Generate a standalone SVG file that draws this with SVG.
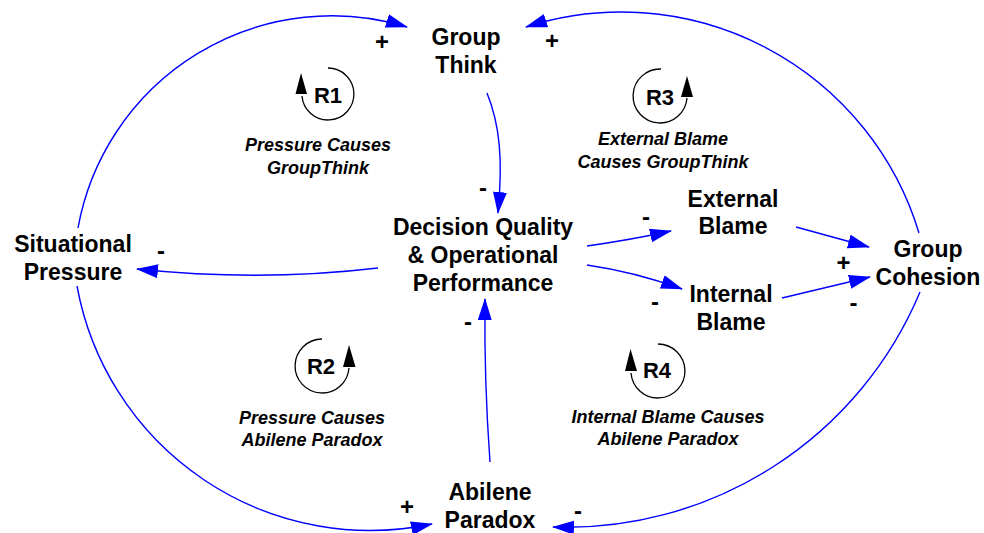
<svg xmlns="http://www.w3.org/2000/svg" width="984" height="533" viewBox="0 0 984 533">
<style>
.node{font-family:"Liberation Sans",Arial,sans-serif;font-weight:bold;font-size:23px;fill:#000;text-anchor:middle}
.sign{font-family:"Liberation Sans",Arial,sans-serif;font-weight:bold;font-size:24px;fill:#000;text-anchor:middle}
.loopname{font-family:"Liberation Sans",Arial,sans-serif;font-weight:bold;font-size:22px;fill:#000;text-anchor:middle}
.looplabel{font-family:"Liberation Sans",Arial,sans-serif;font-weight:bold;font-style:italic;font-size:18px;fill:#000;text-anchor:middle}
.link{fill:none;stroke:#0000FF;stroke-width:1.4;marker-end:url(#arrow)}
.loop{fill:none;stroke:#000;stroke-width:1.3}
.loophead{fill:#000}
</style>
<defs>
<marker id="arrow" markerUnits="userSpaceOnUse" markerWidth="24" markerHeight="16" refX="21" refY="7" orient="auto">
<path d="M0,0 L22,7 L0,14 z" fill="#0000FF"/>
</marker>
</defs>
<rect width="984" height="533" fill="#fff"/>
<g id="connectors">
<path class="link" d="M78,228 A258,258 0 0 1 407,27"/>
<path class="link" d="M919,233 A311,311 0 0 0 526,27"/>
<path class="link" d="M77,286 A298,298 0 0 0 432,524"/>
<path class="link" d="M920,292 A383,383 0 0 1 553,527"/>
<path class="link" d="M487,93 C500,125 503,160 498,213"/>
<path class="link" d="M490,462 Q484,380 485,299"/>
<path class="link" d="M378,268 Q260,282 137,269"/>
<path class="link" d="M587,246 Q630,240 671,231"/>
<path class="link" d="M587,265 Q635,272 682,289"/>
<path class="link" d="M796,227 L869,247"/>
<path class="link" d="M782,298 L870,277"/>
</g>
<g id="signs">
<text class="sign" x="382" y="49.5">+</text>
<text class="sign" x="552" y="48.5">+</text>
<text class="sign" x="483" y="196">-</text>
<text class="sign" x="468" y="330">-</text>
<text class="sign" x="161" y="259">-</text>
<text class="sign" x="646" y="225">-</text>
<text class="sign" x="655" y="310">-</text>
<text class="sign" x="843.5" y="270.5">+</text>
<text class="sign" x="853.5" y="310.5">-</text>
<text class="sign" x="407" y="514.5">+</text>
<text class="sign" x="578" y="519">-</text>
</g>
<g id="group-think"><text class="node" x="466" y="45">Group</text><text class="node" x="466" y="73">Think</text></g>
<g id="decision-quality"><text class="node" x="483" y="235">Decision Quality</text><text class="node" x="483" y="263">&amp; Operational</text><text class="node" x="483" y="291">Performance</text></g>
<g id="situational-pressure"><text class="node" x="73" y="252">Situational</text><text class="node" x="73" y="280">Pressure</text></g>
<g id="external-blame"><text class="node" x="733" y="207">External</text><text class="node" x="733" y="234">Blame</text></g>
<g id="internal-blame"><text class="node" x="731" y="302">Internal</text><text class="node" x="731" y="330">Blame</text></g>
<g id="group-cohesion"><text class="node" x="928" y="257">Group</text><text class="node" x="928" y="285">Cohesion</text></g>
<g id="abilene-paradox"><text class="node" x="490" y="500">Abilene</text><text class="node" x="490" y="528">Paradox</text></g>
<g id="loop-r1">
<path class="loop" d="M328,68 A26,26 0 1 1 302,96"/>
<polygon class="loophead" points="301,73 295.5,94 307,94"/>
<text class="loopname" x="328" y="103">R1</text>
<text class="looplabel" x="318" y="151">Pressure Causes</text>
<text class="looplabel" x="318" y="174">GroupThink</text>
</g>
<g id="loop-r2">
<path class="loop" d="M322,339 A27,27 0 1 0 349,368"/>
<polygon class="loophead" points="349,345 343,367 355.5,367"/>
<text class="loopname" x="321" y="374">R2</text>
<text class="looplabel" x="312" y="424">Pressure Causes</text>
<text class="looplabel" x="312" y="446">Abilene Paradox</text>
</g>
<g id="loop-r3">
<path class="loop" d="M661,69 A27,27 0 1 0 687,98"/>
<polygon class="loophead" points="687,76 681,97 693,97"/>
<text class="loopname" x="660" y="105">R3</text>
<text class="looplabel" x="663" y="145">External Blame</text>
<text class="looplabel" x="663" y="168">Causes GroupThink</text>
</g>
<g id="loop-r4">
<path class="loop" d="M658,344 A27,27 0 1 1 631,373"/>
<polygon class="loophead" points="630.5,349 625,371 637,371"/>
<text class="loopname" x="657" y="378">R4</text>
<text class="looplabel" x="668" y="423">Internal Blame Causes</text>
<text class="looplabel" x="668" y="445">Abilene Paradox</text>
</g>
</svg>
